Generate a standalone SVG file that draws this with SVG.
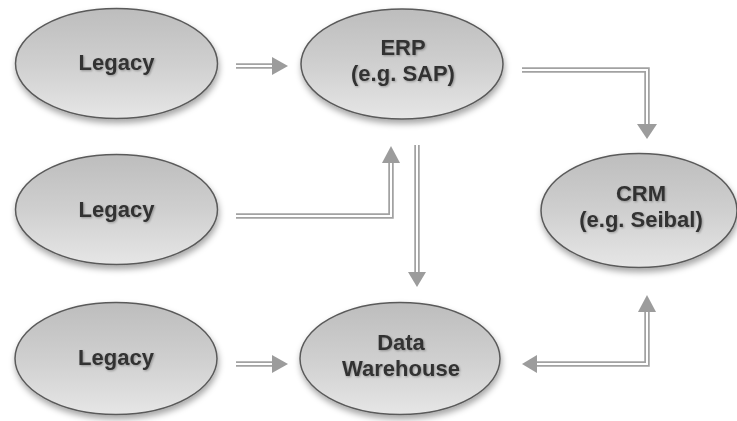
<svg xmlns="http://www.w3.org/2000/svg" width="737" height="421" viewBox="0 0 737 421">
<style>
.node ellipse{fill:url(#g);stroke:#5a5a5a;stroke-width:1.5;filter:url(#sh)}
.node text{font-family:"Liberation Sans",Arial,sans-serif;font-weight:bold;font-size:22px;fill:#333333;text-anchor:middle;filter:url(#ts)}
.outer{fill:none;stroke:#a2a2a2;stroke-width:5.5}
.inner{fill:none;stroke:#ffffff;stroke-width:2}
.head{fill:#9c9c9c}
</style>
<defs>
<linearGradient id="g" x1="0" y1="0" x2="0" y2="1">
<stop offset="0" stop-color="#bdbdbd"/>
<stop offset="0.5" stop-color="#cfcfcf"/>
<stop offset="1" stop-color="#e6e6e6"/>
</linearGradient>
<filter id="sh" x="-20%" y="-20%" width="140%" height="150%">
<feDropShadow dx="1" dy="4" stdDeviation="3" flood-color="#000" flood-opacity="0.35"/>
</filter>
<filter id="ts" x="-10%" y="-30%" width="120%" height="160%">
<feDropShadow dx="1" dy="1" stdDeviation="0.8" flood-color="#000" flood-opacity="0.3"/>
</filter>
</defs>
<g id="connectors">
<path class="outer" d="M236 66H273"/><path class="inner" d="M236 66H273"/>
<polygon class="head" points="272,57 288,66 272,75"/>
<path class="outer" d="M522 70H647V125"/><path class="inner" d="M522 70H647V125"/>
<polygon class="head" points="637,124 647,139 657,124"/>
<path class="outer" d="M236 216H391V162"/><path class="inner" d="M236 216H391V162"/>
<polygon class="head" points="382,163 391,146 400,163"/>
<path class="outer" d="M417 145V273"/><path class="inner" d="M417 145V273"/>
<polygon class="head" points="408,272 417,287 426,272"/>
<path class="outer" d="M236 364H273"/><path class="inner" d="M236 364H273"/>
<polygon class="head" points="272,355 288,364 272,373"/>
<path class="outer" d="M536 364H647V311"/><path class="inner" d="M536 364H647V311"/>
<polygon class="head" points="537,355 522,364 537,373"/>
<polygon class="head" points="638,312 647,295 656,312"/>
</g>
<g id="legacy1" class="node"><ellipse cx="116.5" cy="63.5" rx="101" ry="55"/><text x="116.5" y="70">Legacy</text></g>
<g id="erp" class="node"><ellipse cx="402" cy="64" rx="101" ry="55"/><text x="403" y="55">ERP</text><text x="403" y="81">(e.g. SAP)</text></g>
<g id="legacy2" class="node"><ellipse cx="116.5" cy="209.5" rx="101" ry="55"/><text x="116.5" y="217">Legacy</text></g>
<g id="crm" class="node"><ellipse cx="639" cy="210.5" rx="98" ry="57"/><text x="641" y="201">CRM</text><text x="641" y="227">(e.g. Seibal)</text></g>
<g id="legacy3" class="node"><ellipse cx="116" cy="358.5" rx="101" ry="56"/><text x="116" y="365">Legacy</text></g>
<g id="dw" class="node"><ellipse cx="400" cy="358.5" rx="100" ry="56"/><text x="401" y="350">Data</text><text x="401" y="376">Warehouse</text></g>
</svg>
